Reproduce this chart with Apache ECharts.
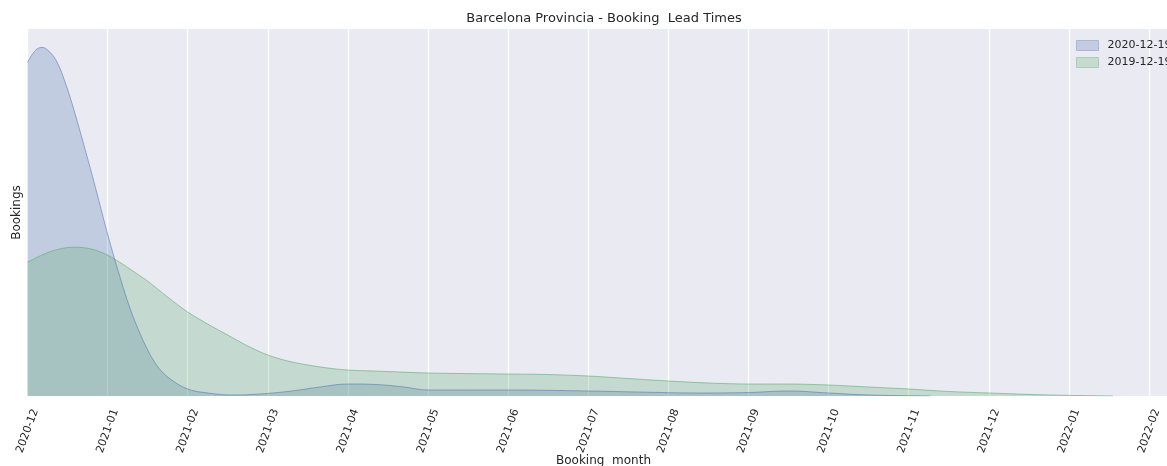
<!DOCTYPE html>
<html>
<head>
<meta charset="utf-8">
<script src="https://cdn.jsdelivr.net/npm/echarts@6/dist/echarts.min.js"></script>
<style>html,body{margin:0;padding:0;background:#fff}#c{width:1167px;height:466px}</style>
</head>
<body>
<div id="c"></div>
<script>
// Tick labels (one per month, evenly spaced on the axis)
const tickLabels = ['2020-12','2021-01','2021-02','2021-03','2021-04','2021-05','2021-06','2021-07','2021-08','2021-09','2021-10','2021-11','2021-12','2022-01','2022-02'];
const seriesNames = ['2020-12-19', '2019-12-19'];
// Series A (2020-12-19): months after 2020-12 and density (arbitrary units)
const aMonths = [0, 0.1, 0.18, 0.27, 0.37, 0.47, 0.57, 0.67, 0.77, 0.87, 0.97, 1.07, 1.17, 1.27, 1.37, 1.47, 1.57, 1.67, 1.8, 2.0, 2.25, 2.55, 2.9, 3.3, 3.65, 4.0, 4.35, 4.7, 5.0, 6.0, 7.0, 7.6, 8.4, 9.0, 9.5, 10.0, 10.5, 11.27];
const aDensity = [334, 346, 349, 345, 334, 314, 289, 261, 232, 202, 171, 142, 115, 90, 69, 51, 36, 25, 16, 7, 3, 1, 2, 5, 9, 12, 11.5, 9, 6, 6, 5, 4, 3, 3.5, 5, 3, 1, 0];
// Series B (2019-12-19)
const bMonths = [0, 0.15, 0.3, 0.45, 0.57, 0.7, 0.85, 1.0, 1.15, 1.3, 1.5, 1.75, 2.0, 2.25, 2.5, 2.75, 3.0, 3.25, 3.5, 3.75, 4.0, 4.5, 5.0, 6.0, 6.5, 7.0, 7.5, 8.0, 8.5, 9.0, 9.5, 10.0, 10.5, 11.0, 11.5, 12.0, 12.75, 13.55];
const bDensity = [134, 140, 145, 148, 149, 148.5, 146, 141, 134, 126, 115, 99, 84, 72, 61, 50, 41, 35, 31, 28, 26, 24.5, 23, 22, 21.5, 20, 17.5, 15, 13, 12, 12, 11, 9, 7, 4.5, 3, 1, 0];

const colors = ['#4c72b0', '#55a868'];
const legendFill = ['#c3cae2', '#c5dbcf'];
const legendEdge = ['#a9b6d6', '#abcdb5'];
const pair = (xs, ys) => xs.map((x, i) => [x, ys[i]]);

const chart = echarts.init(document.getElementById('c'), null, {renderer: 'canvas'});
const font = 'DejaVu Sans';
chart.setOption({
  backgroundColor: '#ffffff',
  animation: false,
  textStyle: {fontFamily: font},
  title: {
    text: 'Barcelona Provincia - Booking  Lead Times',
    left: 599, top: 7, textAlign: 'center',
    textStyle: {fontFamily: font, fontSize: 13, fontWeight: 'normal', color: '#262626'}
  },
  legend: {
    data: seriesNames.map((n, i) => ({name: n, itemStyle: {color: legendFill[i], borderColor: legendEdge[i], borderWidth: 1}})),
    orient: 'vertical',
    left: 1076, top: 40, padding: 0,
    itemWidth: 22, itemHeight: 10, itemGap: 6,
    icon: 'rect',
    textStyle: {fontFamily: font, fontSize: 11, color: '#262626', padding: [0, 0, 0, 4]}
  },
  grid: {
    left: 27.5, right: -12.5, top: 29, bottom: 70,
    show: true, backgroundColor: '#eaeaf2', borderWidth: 0,
    containLabel: false, outerBoundsMode: 'none'
  },
  xAxis: {
    type: 'value', min: 0, max: 14.38, interval: 1,
    name: 'Booking  month', nameLocation: 'middle', nameGap: 59, nameMoveOverlap: false,
    nameTextStyle: {fontFamily: font, fontSize: 12, color: '#262626'},
    axisLine: {show: false}, axisTick: {show: false},
    splitLine: {show: true, lineStyle: {color: '#ffffff', width: 1.3}},
    axisLabel: {
      rotate: 70, margin: 35, align: 'center', verticalAlign: 'middle',
      fontFamily: font, fontSize: 11, color: '#262626',
      showMaxLabel: false,
      formatter: v => Number.isInteger(v) && tickLabels[v] !== undefined ? tickLabels[v] : ''
    }
  },
  yAxis: {
    type: 'value', min: 0, max: 367.4,
    name: 'Bookings', nameLocation: 'middle', nameGap: 4.5, nameMoveOverlap: false,
    nameTextStyle: {fontFamily: font, fontSize: 12, color: '#262626'},
    axisLine: {show: false}, axisTick: {show: false}, axisLabel: {show: false},
    splitLine: {show: false}
  },
  series: [
    {
      name: seriesNames[0], type: 'line', data: pair(aMonths, aDensity),
      smooth: 0.4, symbol: 'none', color: colors[0],
      lineStyle: {color: colors[0], width: 1, opacity: 0.55},
      areaStyle: {color: colors[0], opacity: 0.25}
    },
    {
      name: seriesNames[1], type: 'line', data: pair(bMonths, bDensity),
      smooth: 0.3, symbol: 'none', color: colors[1],
      lineStyle: {color: colors[1], width: 1, opacity: 0.55},
      areaStyle: {color: colors[1], opacity: 0.25}
    }
  ]
});
</script>
</body>
</html>
